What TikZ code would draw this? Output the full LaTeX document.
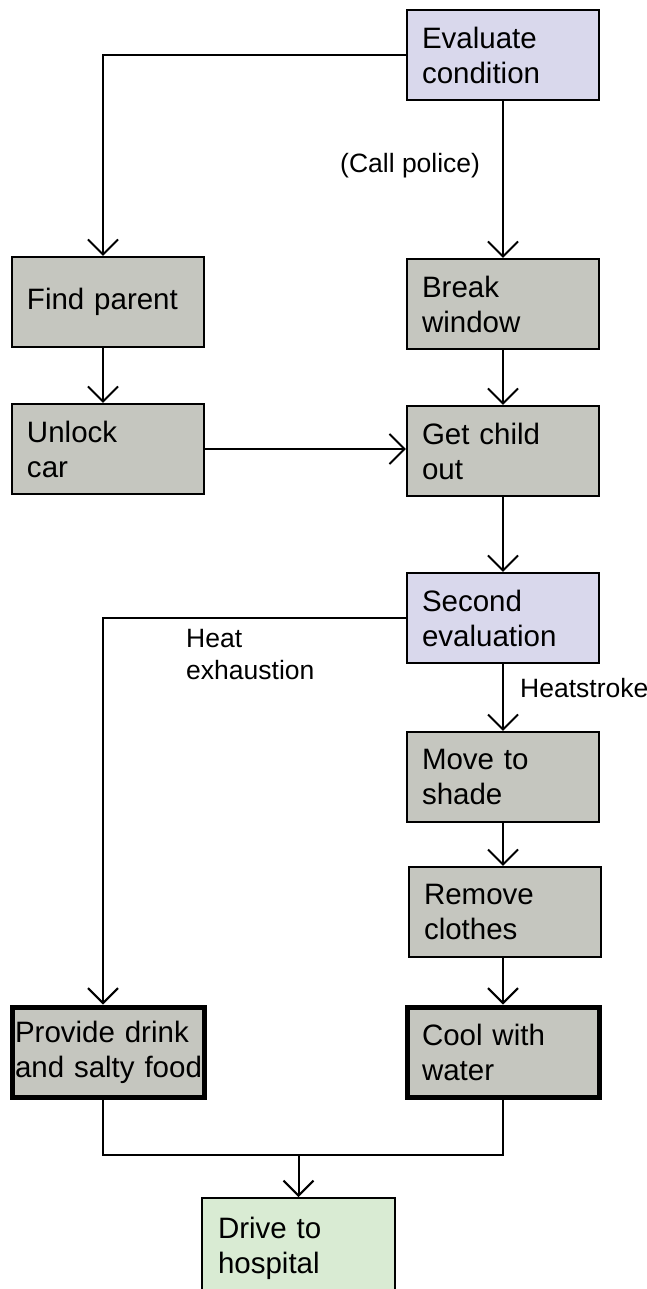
\documentclass[tikz,border=0pt]{standalone}
\usepackage{fontspec}
\setmainfont{Liberation Sans}
\usetikzlibrary{arrows.meta}
\definecolor{evalfill}{RGB}{217,216,236}
\definecolor{stepfill}{RGB}{197,198,191}
\definecolor{goalfill}{RGB}{217,235,211}
\begin{document}
\begin{tikzpicture}[x=1pt,y=-1pt,
  box/.style={draw=black, line width=2.2pt, minimum width=192pt, minimum height=90pt,
    text width=162pt, inner xsep=15pt, inner ysep=0pt, align=left,
    font=\fontsize{29.5}{35}\selectfont},
  decide/.style={box, fill=evalfill},
  action/.style={box, fill=stepfill},
  urgent/.style={action, line width=5pt},
  goal/.style={box, fill=goalfill},
  tag/.style={font=\fontsize{26.5}{32}\selectfont, inner sep=0pt, align=left},
  link/.style={line width=2pt, ->},
  >={Straight Barb[length=15pt,width=30pt]}
]
\path[use as bounding box] (0,0) rectangle (647,1289);
\clip (0,0) rectangle (647,1289);

% decision and action boxes
\node[decide] (eval) at (503,55) {Evaluate\\condition};
\node[action] (find) at (108,302) {Find parent};
\node[action] (brk) at (503,304) {Break\\window};
\node[action] (unlock) at (108,449) {Unlock\\car};
\node[action] (out) at (503,451) {Get child\\out};
\node[decide] (second) at (503,618) {Second\\evaluation};
\node[action] (shade) at (503,777) {Move to\\shade};
\node[action] (clothes) at (505,912) {Remove\\clothes};
\node[urgent, text width=186pt, inner xsep=3pt] (drink) at (108,1052)
  {\makebox[186pt][l]{Provide drink}\\\makebox[186pt][l]{and salty food}};
\node[urgent] (cool) at (503,1052) {Cool with\\water};
\node[goal, anchor=north, minimum height=160pt, inner xsep=16pt, text width=161pt]
  (drive) at (298.5,1197) {\parbox[c][160pt][t]{161pt}{\rule{0pt}{40pt}Drive to\\hospital}};

% branch labels
\node[tag, anchor=base west] (police) at (340,173) {(Call police)};
\node[tag, anchor=north west] (exh) at (186,629.5) {Heat\\exhaustion};
\node[tag, anchor=base west] (stroke) at (520,697) {Heatstroke};

% connectors
\draw[link] (eval.west) -| ([xshift=-5pt]find.north);
\draw[link] ([xshift=-5pt]find.south) -- ([xshift=-5pt]unlock.north);
\draw[link] (eval.south) -- (brk.north);
\draw[link] (brk.south) -- (out.north);
\draw[link] (unlock.east) -- (unlock.east -| out.west);
\draw[link] (out.south) -- (second.north);
\draw[link] (second.west) -| ([xshift=-5pt]drink.north);
\draw[link] (second.south) -- (shade.north);
\draw[link] (shade.south) -- (shade.south |- clothes.north);
\draw[link] (clothes.south -| cool.north) -- (cool.north);
\coordinate (merge) at (298.5,1155);
\draw[line width=2pt] ([xshift=-5pt]drink.south) |- (merge) -| (cool.south);
\draw[link] (merge) -- (drive.north);
\end{tikzpicture}
\end{document}
